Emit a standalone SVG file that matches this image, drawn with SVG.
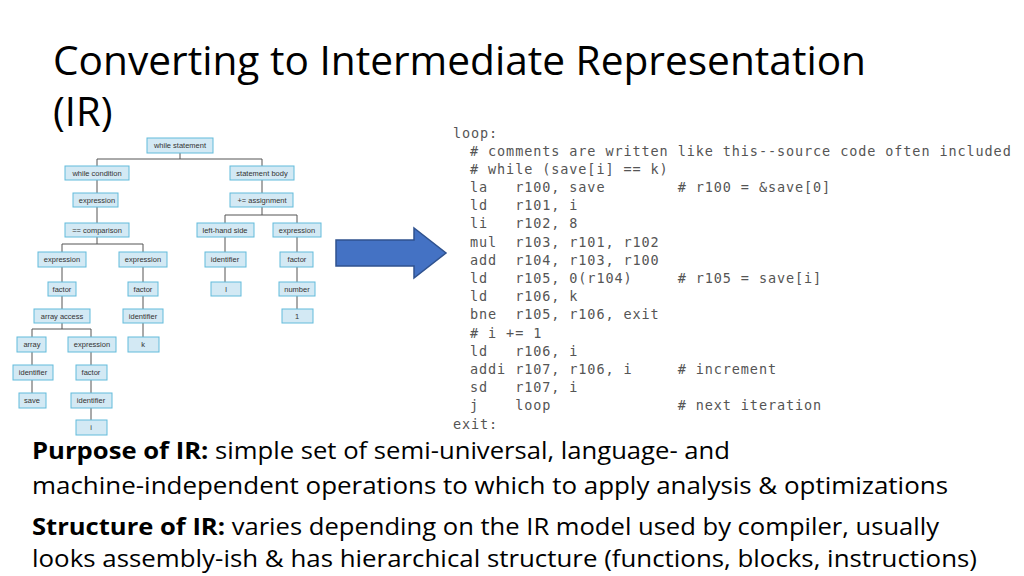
<svg xmlns="http://www.w3.org/2000/svg" width="1024" height="576" viewBox="0 0 1024 576">
<style>
.n rect{fill:#d3e9f4;stroke:#62bbdb;stroke-width:1}
.n text{font-family:"Liberation Sans",Arial,sans-serif;font-size:7.5px;fill:#333;text-anchor:middle}
#connectors path{fill:none;stroke:#555;stroke-width:1}
.code text{font-family:"DejaVu Sans Mono","Liberation Mono",monospace;font-size:13.5px;fill:#555;letter-spacing:0.9px;white-space:pre}
.t{font-family:"Open Sans","Liberation Sans",sans-serif;fill:#000}
</style>
<rect width="1024" height="576" fill="#fff"/>
<text class="t" x="53" y="75" font-size="40" textLength="813" lengthAdjust="spacingAndGlyphs">Converting to Intermediate Representation</text>
<text class="t" x="53" y="126" font-size="40">(IR)</text>
<g id="connectors">
<path d="M180,153V159H97V166M180,159H262V166"/>
<path d="M97,180V193M97,207V223M262,180V193"/>
<path d="M97,237V244H62V252M97,244H143V252"/>
<path d="M262,207V215H225V223M262,215H297V223"/>
<path d="M62,267V282M62,296V309M143,267V282M143,296V309M143,323V337"/>
<path d="M225,237V252M225,267V282M297,237V252M297,267V282M297,296V309"/>
<path d="M62,323V329H32V337M62,329H91V337"/>
<path d="M32,352V365M32,380V393M91,352V365M91,380V393M91,408V420"/>
</g>
<g id="n1" class="n"><rect x="147" y="138" width="66" height="15"/><text x="180" y="148">while statement</text></g>
<g id="n2" class="n"><rect x="65" y="166" width="64" height="14"/><text x="97" y="176">while condition</text></g>
<g id="n3" class="n"><rect x="230" y="166" width="64" height="14"/><text x="262" y="176">statement body</text></g>
<g id="n4" class="n"><rect x="73" y="193" width="45" height="14"/><text x="97" y="203">expression</text></g>
<g id="n5" class="n"><rect x="230" y="193" width="63" height="14"/><text x="262" y="203">+= assignment</text></g>
<g id="n6" class="n"><rect x="65" y="223" width="64" height="14"/><text x="97" y="233">== comparison</text></g>
<g id="n7" class="n"><rect x="197" y="223" width="57" height="14"/><text x="225" y="233">left-hand side</text></g>
<g id="n8" class="n"><rect x="273" y="223" width="48" height="14"/><text x="297" y="233">expression</text></g>
<g id="n9" class="n"><rect x="38" y="252" width="48" height="15"/><text x="62" y="262">expression</text></g>
<g id="n10" class="n"><rect x="119" y="252" width="48" height="15"/><text x="143" y="262">expression</text></g>
<g id="n11" class="n"><rect x="205" y="252" width="41" height="15"/><text x="225" y="262">identifier</text></g>
<g id="n12" class="n"><rect x="280" y="252" width="33" height="15"/><text x="297" y="262">factor</text></g>
<g id="n13" class="n"><rect x="48" y="282" width="28" height="14"/><text x="62" y="292">factor</text></g>
<g id="n14" class="n"><rect x="128" y="282" width="30" height="14"/><text x="143" y="292">factor</text></g>
<g id="n15" class="n"><rect x="211" y="282" width="30" height="14"/><text x="226" y="292">l</text></g>
<g id="n16" class="n"><rect x="279" y="282" width="36" height="14"/><text x="297" y="292">number</text></g>
<g id="n17" class="n"><rect x="34" y="309" width="56" height="14"/><text x="62" y="319">array access</text></g>
<g id="n18" class="n"><rect x="123" y="309" width="40" height="14"/><text x="143" y="319">identifier</text></g>
<g id="n19" class="n"><rect x="282" y="309" width="31" height="14"/><text x="297" y="319">1</text></g>
<g id="n20" class="n"><rect x="17" y="337" width="29" height="15"/><text x="32" y="347">array</text></g>
<g id="n21" class="n"><rect x="68" y="337" width="48" height="15"/><text x="92" y="347">expression</text></g>
<g id="n22" class="n"><rect x="128" y="337" width="31" height="15"/><text x="143" y="347">k</text></g>
<g id="n23" class="n"><rect x="13" y="365" width="40" height="15"/><text x="33" y="375">identifier</text></g>
<g id="n24" class="n"><rect x="76" y="365" width="31" height="15"/><text x="91" y="375">factor</text></g>
<g id="n25" class="n"><rect x="19" y="393" width="27" height="15"/><text x="32" y="403">save</text></g>
<g id="n26" class="n"><rect x="71" y="393" width="41" height="15"/><text x="91" y="403">identifier</text></g>
<g id="n27" class="n"><rect x="76" y="420" width="31" height="15"/><text x="91" y="430">i</text></g>
<g id="arrow"><path d="M336,240H414V228L446,253L414,278V266H336Z" fill="#4472c4" stroke="#2f528f" stroke-width="1.5"/></g>
<g class="code">
<text x="453" y="138">loop:</text>
<text x="470" y="156"># comments are written like this--source code often included</text>
<text x="470" y="174"># while (save[i] == k)</text>
<text x="470" y="192">la   r100, save        # r100 = &amp;save[0]</text>
<text x="470" y="210">ld   r101, i</text>
<text x="470" y="228">li   r102, 8</text>
<text x="470" y="247">mul  r103, r101, r102</text>
<text x="470" y="265">add  r104, r103, r100</text>
<text x="470" y="283">ld   r105, 0(r104)     # r105 = save[i]</text>
<text x="470" y="301">ld   r106, k</text>
<text x="470" y="319">bne  r105, r106, exit</text>
<text x="470" y="338"># i += 1</text>
<text x="470" y="356">ld   r106, i</text>
<text x="470" y="374">addi r107, r106, i     # increment</text>
<text x="470" y="392">sd   r107, i</text>
<text x="470" y="410">j    loop              # next iteration</text>
<text x="453" y="429">exit:</text>
</g>
<g class="t" font-size="23">
<text x="32" y="459" textLength="698" lengthAdjust="spacingAndGlyphs"><tspan font-weight="bold">Purpose of IR:</tspan> simple set of semi-universal, language- and</text>
<text x="32" y="494" textLength="916" lengthAdjust="spacingAndGlyphs">machine-independent operations to which to apply analysis &amp; optimizations</text>
<text x="32" y="535" textLength="907" lengthAdjust="spacingAndGlyphs"><tspan font-weight="bold">Structure of IR:</tspan> varies depending on the IR model used by compiler, usually</text>
<text x="32" y="567" textLength="945" lengthAdjust="spacingAndGlyphs">looks assembly-ish &amp; has hierarchical structure (functions, blocks, instructions)</text>
</g>
</svg>
